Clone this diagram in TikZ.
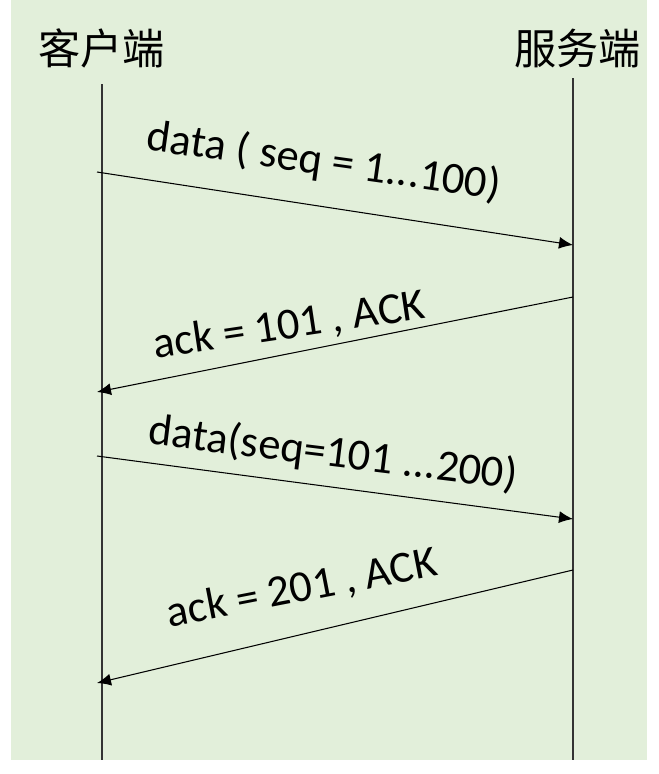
\documentclass[tikz,border=0pt]{standalone}
\usepackage{fontspec}
\setmainfont{Carlito}
\newfontfamily\cjk{Noto Sans CJK SC}
\usetikzlibrary{arrows.meta,positioning}
\definecolor{bgcolor}{HTML}{E2EFDA}

\begin{document}
\begin{tikzpicture}[
    x=0.03cm, y=-0.03cm,
    party/.style={font=\cjk\fontsize{36}{40}\selectfont, inner sep=0pt},
    life/.style={line width=0.9pt, black!80},
    msg/.style={-{Latex[length=0.42cm,width=0.36cm]}, line width=0.9pt},
    lbl/.style={font=\fontsize{38}{42}\selectfont, inner sep=0pt}
]
\useasboundingbox (0,0) rectangle (658,774);
\fill[bgcolor] (11,0) rectangle (647,760);
% parties
\node[party] (client) at (101.5,48) {客户端};
\node[party] (server) at (577.5,48) {服务端};
\coordinate (ctop) at (102,84);
\coordinate (cbot) at (102,760);
\coordinate (stop) at (573,78);
\coordinate (sbot) at (573,760);
\draw[life] (ctop) -- (cbot);
\draw[life] (stop) -- (sbot);
% messages
\coordinate (m1a) at (97,172);
\coordinate (m1b) at (573,245);
\coordinate (m2a) at (573,297);
\coordinate (m2b) at (97,392);
\coordinate (m3a) at (97,456);
\coordinate (m3b) at (573,519);
\coordinate (m4a) at (573,570);
\coordinate (m4b) at (97,683);
\draw[msg] (m1a) -- (m1b);
\draw[msg] (m2a) -- (m2b);
\draw[msg] (m3a) -- (m3b);
\draw[msg] (m4a) -- (m4b);
% labels
\node[lbl, rotate=-8] (l1) at (324,162) {data ( seq = 1...100)};
\node[lbl, rotate=8.5] (l2) at (289,326) {ack = 101 , ACK};
\node[lbl, rotate=-7] (l3) at (333,454) {data(seq=101 ...200)};
\node[lbl, rotate=11] (l4) at (302,589) {ack = 201 , ACK};
\end{tikzpicture}
\end{document}
